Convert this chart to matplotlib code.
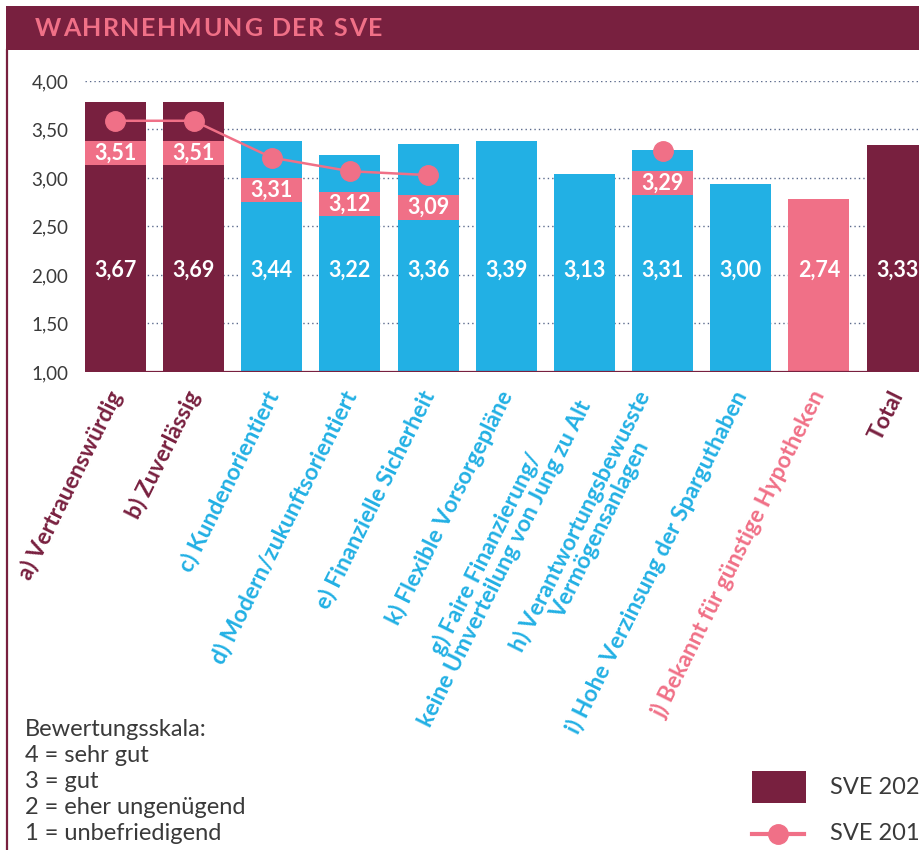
import matplotlib
matplotlib.use("Agg")
import matplotlib.pyplot as plt
import matplotlib.patches as mpatches
import matplotlib.transforms as mtransforms
from matplotlib.lines import Line2D
from matplotlib import font_manager as fm
import numpy as np

plt.rcParams['font.family'] = ['Lato', 'DejaVu Sans']


def find_font(family, weight):
    best, bestd = None, 1e9
    for f in fm.fontManager.ttflist:
        low = f.fname.lower()
        if f.name == family and f.style == "normal" and "italic" not in low and "oblique" not in low:
            w = f.weight if isinstance(f.weight, (int, float)) else 400
            d = abs(w - weight)
            if d < bestd:
                best, bestd = f.fname, d
    if best:
        return fm.FontProperties(fname=best)
    return fm.FontProperties(family="DejaVu Sans", weight="bold" if weight >= 600 else "normal")


BOLD = find_font("Lato", 700)
REG = find_font("Lato", 400)

# ---------------- data ----------------
categories = [
    "a) Vertrauenswürdig",
    "b) Zuverlässig",
    "c) Kundenorientiert",
    "d) Modern/zukunftsorientiert",
    "e) Finanzielle Sicherheit",
    "k) Flexible Vorsorgepläne",
    "g) Faire Finanzierung/\nkeine Umverteilung von Jung zu Alt",
    "h) Verantwortungsbewusste\nVermögensanlagen",
    "i) Hohe Verzinsung der Sparguthaben",
    "j) Bekannt für günstige Hypotheken",
    "Total",
]
# printed values (SVE 2020)
values_2020 = [3.67, 3.69, 3.44, 3.22, 3.36, 3.39, 3.13, 3.31, 3.00, 2.74, 3.33]
# bar tops as drawn in the reference
bar_tops_2020 = [3.78, 3.78, 3.38, 3.24, 3.35, 3.38, 3.04, 3.29, 2.94, 2.78, 3.34]
# printed values (SVE 2016)
values_2016 = [3.51, 3.51, 3.31, 3.12, 3.09, None, None, 3.29, None, None, None]
# marker heights as drawn in the reference
marker_2016 = [3.59, 3.59, 3.21, 3.07, 3.03, np.nan, np.nan, 3.28, np.nan, np.nan, np.nan]
groups = ["top", "top", "c", "c", "c", "c", "c", "c", "c", "j", "top"]
yticks = [1.0, 1.5, 2.0, 2.5, 3.0, 3.5, 4.0]
scale_text = ["Bewertungsskala:", "4 = sehr gut", "3 = gut", "2 = eher ungenügend", "1 = unbefriedigend"]
legend_labels = ["SVE 2020", "SVE 2016"]
title = "WAHRNEHMUNG DER SVE"

# ---------------- style ----------------
MAROON = "#78203f"
CYAN = "#22b0e4"
PINK = "#f07087"
TEXT = "#3a3a3a"
GRID = "#5b6a8c"
group_color = {"top": MAROON, "c": CYAN, "j": PINK}

W, H = 919, 850
fig = plt.figure(figsize=(W / 100, H / 100), dpi=100)
fig.patch.set_facecolor("white")


def fx(px):
    return px / W


def fy(py):
    return 1 - py / H


# header band
fig.patches.append(mpatches.Rectangle((fx(6), fy(50)), 1, 44 / H, transform=fig.transFigure,
                                      facecolor=MAROON, edgecolor="none", zorder=0))
# title with letter spacing
renderer = fig.canvas.get_renderer()
cx = 35
for ch in title:
    t = fig.text(fx(cx), fy(28), ch, color=PINK, fontproperties=BOLD, fontsize=18,
                 ha="left", va="center")
    w = t.get_window_extent(renderer).width if ch != " " else 6
    cx += w + 1.6
# left vertical rule
fig.add_artist(Line2D([fx(7), fx(7)], [fy(50), 0], transform=fig.transFigure,
                      color=MAROON, lw=1.6))

# axes
x0_px, x1_px = 85, 944
ax = fig.add_axes([fx(x0_px), fy(372), (x1_px - x0_px) / W, (372 - 81) / H])
ax.set_xlim(-0.39, 10.6)
ax.set_ylim(1, 4)
x = np.arange(len(categories))
colors = [group_color[g] for g in groups]

ax.bar(x, np.array(bar_tops_2020) - 1, bottom=1, width=0.78, color=colors, zorder=2)

# grid
for yv in yticks[1:]:
    ax.axhline(yv, color=GRID, lw=1.0, ls=(0, (1, 2.2)), zorder=1)
ax.axhline(1.0, color=MAROON, lw=1.6, zorder=3)

for s in ax.spines.values():
    s.set_visible(False)
ax.set_yticks(yticks)
ax.set_yticklabels([f"{v:.2f}".replace(".", ",") for v in yticks], color=TEXT,
                   fontproperties=REG, fontsize=13.5)
ax.tick_params(axis="y", length=0, pad=12)
ax.set_xticks([])

# value labels in bars
for xi, v in zip(x, values_2020):
    ax.text(xi, 2.05, f"{v:.2f}".replace(".", ","), color="white", fontproperties=BOLD,
            fontsize=15.5, ha="center", va="center", zorder=5)

# 2016 bands + line
for xi, v, m in zip(x, values_2016, marker_2016):
    if v is None:
        continue
    top = m - 0.21
    ax.add_patch(mpatches.Rectangle((xi - 0.39, top - 0.25), 0.78, 0.25, facecolor=PINK,
                                    edgecolor="none", zorder=3))
    ax.text(xi, top - 0.125, f"{v:.2f}".replace(".", ","), color="white", fontproperties=BOLD,
            fontsize=15.5, ha="center", va="center", zorder=5)
ax.plot(x, marker_2016, color=PINK, lw=1.8, marker="o", markersize=14, zorder=4,
        clip_on=False)

# category labels
offset = mtransforms.ScaledTranslation(11 / 100, -15 / 100, fig.dpi_scale_trans)
for xi, lab, c in zip(x, categories, colors):
    ax.text(xi, 1.0, lab, rotation=63.5, ha="right", va="top", color=c, fontproperties=BOLD,
            fontsize=16.5, multialignment="center", linespacing=1.0,
            transform=ax.transData + offset, clip_on=False)

# scale explanation
for i, line in enumerate(scale_text):
    fig.text(fx(25), fy(730 + 26 * i), line, color=TEXT, fontproperties=REG, fontsize=17,
             ha="left", va="center")

# legend (manual)
fig.patches.append(mpatches.Rectangle((fx(752), fy(803)), 54 / W, 32 / H, transform=fig.transFigure,
                                      facecolor=MAROON, edgecolor="none"))
fig.add_artist(Line2D([fx(752), fx(804)], [fy(834), fy(834)], transform=fig.transFigure,
                      color=PINK, lw=3))
fig.add_artist(Line2D([fx(778)], [fy(834)], transform=fig.transFigure, color=PINK,
                      marker="o", markersize=14, lw=0))
fig.text(fx(830), fy(787), legend_labels[0], color=TEXT, fontproperties=REG, fontsize=17,
         ha="left", va="center")
fig.text(fx(830), fy(834), legend_labels[1], color=TEXT, fontproperties=REG, fontsize=17,
         ha="left", va="center")

fig.savefig("out.png", dpi=100)
